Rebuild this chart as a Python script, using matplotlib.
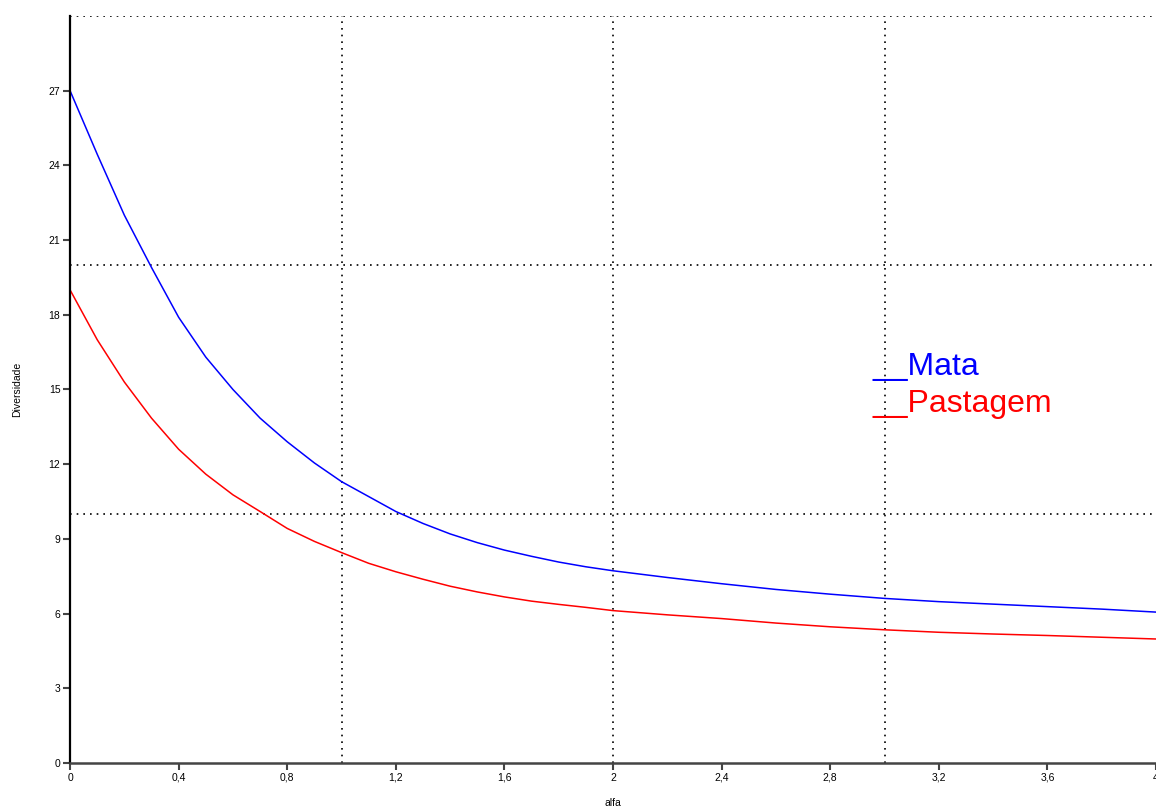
import matplotlib.pyplot as plt
import numpy as np
from matplotlib.ticker import FuncFormatter

plt.rcParams['font.family'] = ['Liberation Sans', 'DejaVu Sans']

alfa = [0.0, 0.1, 0.2, 0.3, 0.4, 0.5, 0.6, 0.7, 0.8, 0.9,
        1.0, 1.1, 1.2, 1.3, 1.4, 1.5, 1.6, 1.7, 1.8, 1.9,
        2.0, 2.2, 2.4, 2.6, 2.8, 3.0, 3.2, 3.4, 3.6, 3.8, 4.0]

mata = [27.0, 24.45, 22.0, 19.9, 17.9, 16.3, 15.0, 13.85, 12.9, 12.05,
        11.3, 10.7, 10.1, 9.62, 9.2, 8.85, 8.55, 8.3, 8.07, 7.88,
        7.72, 7.45, 7.2, 6.97, 6.78, 6.61, 6.48, 6.38, 6.28, 6.18, 6.06]

pastagem = [19.0, 17.0, 15.3, 13.85, 12.6, 11.6, 10.77, 10.1, 9.42, 8.9,
            8.45, 8.02, 7.68, 7.38, 7.1, 6.87, 6.67, 6.5, 6.37, 6.25,
            6.12, 5.95, 5.8, 5.62, 5.47, 5.35, 5.25, 5.18, 5.12, 5.05, 4.98]

x_ticks = np.arange(0, 4.01, 0.4)
y_ticks = np.arange(0, 28, 3)
grid_x = [1, 2, 3]
grid_y = [10, 20, 30]

fig = plt.figure(figsize=(11.56, 8.08), dpi=100)
ax = fig.add_axes([0.0606, 0.0557, 0.9394, 0.9245])

ax.plot(alfa, mata, color='blue', lw=1.1)
ax.plot(alfa, pastagem, color='red', lw=1.1)

for g in grid_x:
    ax.axvline(g, color='black', ls=(0, (1, 3)), lw=1.2, zorder=0)
for g in grid_y:
    ax.axhline(g, color='black', ls=(0, (1, 3)), lw=1.2, zorder=0)

ax.set_xlim(0, 4)
ax.set_ylim(0, 30)
ax.set_xticks(x_ticks)
ax.set_yticks(y_ticks)

fmt = FuncFormatter(lambda v, p: ('%g' % round(v, 2)).replace('.', ','))
ax.xaxis.set_major_formatter(fmt)
ax.yaxis.set_major_formatter(fmt)
ax.tick_params(labelsize=7.5, length=5, width=1.5, color='#444444', pad=2)

for s in ['top', 'right']:
    ax.spines[s].set_visible(False)
ax.spines['left'].set_linewidth(1.6)
ax.spines['left'].set_color('black')
ax.spines['bottom'].set_linewidth(1.8)
ax.spines['bottom'].set_color('#444444')

ax.set_xlabel('alfa', fontsize=7.5, labelpad=11)
ax.set_ylabel('Diversidade', fontsize=7.5, labelpad=19)

ax.text(0.7385, 0.519, '__Mata', color='blue', fontsize=23, transform=ax.transAxes)
ax.text(0.7385, 0.470, '__Pastagem', color='red', fontsize=23, transform=ax.transAxes)

fig.savefig('out.png', dpi=100)
